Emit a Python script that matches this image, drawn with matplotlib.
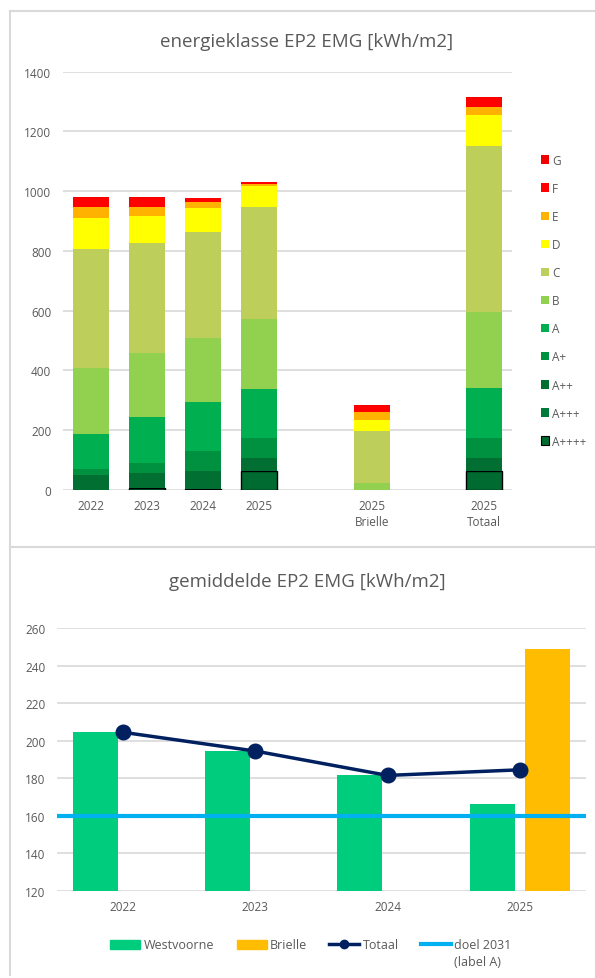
import numpy as np
import matplotlib
matplotlib.use("Agg")
import matplotlib.pyplot as plt
from matplotlib.lines import Line2D
from matplotlib.patches import Patch

plt.rcParams["font.family"] = ["Open Sans", "DejaVu Sans"]

# ---- top chart: energy label distribution ----
categories = ["2022", "2023", "2024", "2025", "", "2025\nBrielle", "", "2025\nTotaal"]
classes = ["A++++", "A+++", "A++", "A+", "A", "B", "C", "D", "E", "F", "G"]
a4plus = [0, 5, 3, 62, 0, 0, 0, 63]
a3plus = [0, 0, 0, 0, 0, 0, 0, 0]
a2plus = [49, 50, 61, 43, 0, 0, 0, 42]
a1plus = [20, 34, 65, 68, 0, 0, 0, 67]
label_a = [117, 153, 166, 164, 0, 0, 0, 168]
label_b = [220, 216, 212, 235, 0, 21, 0, 256]
label_c = [400, 368, 355, 374, 0, 177, 0, 556]
label_d = [104, 90, 80, 72, 0, 36, 0, 104]
label_e = [36, 30, 22, 6, 0, 27, 0, 27]
label_f = [30, 30, 12, 5, 0, 20, 0, 28]
label_g = [4, 4, 2, 2, 0, 4, 0, 5]
class_colors = ["#006B30", "#007A3A", "#006F31", "#009140", "#00B050", "#92D050",
                "#BDCF5A", "#FFFF00", "#FFB300", "#FF0000", "#F20000"]

# ---- bottom chart: average EP2 ----
years = ["2022", "2023", "2024", "2025"]
westvoorne = [204.5, 194.5, 181.5, 166.5]
brielle = [np.nan, np.nan, np.nan, 249]
totaal = [204.5, 194.5, 181.5, 184.5]
doel_2031 = 160

W, H = 595, 979
GRID = "#D9D9D9"
TXT = "#595959"

fig = plt.figure(figsize=(W / 100, H / 100), dpi=100)


def px_axes(left, top, right, bottom):
    return fig.add_axes([left / W, 1 - bottom / H, (right - left) / W, (bottom - top) / H])


def style(ax):
    for s in ax.spines.values():
        s.set_visible(False)
    ax.tick_params(length=0, colors=TXT, labelsize=8.5)
    ax.tick_params(axis="y", pad=8.5)
    ax.tick_params(axis="x", pad=7)
    ax.grid(axis="y", color=GRID, linewidth=1.2)
    ax.set_axisbelow(True)


# frame lines around the two chart panels
for xs, ys in [((10, 10), (12, 976)), ((10, W), (12, 12)), ((10, W), (548, 548))]:
    fig.add_artist(Line2D([x / W for x in xs], [1 - y / H for y in ys], color=GRID, lw=1.5))

# top chart
ax1 = px_axes(63, 72.7, 512, 490.7)
style(ax1)
x = np.arange(len(categories))
stack = [a4plus, a3plus, a2plus, a1plus, label_a, label_b, label_c, label_d, label_e, label_f, label_g]
bottom = np.zeros(len(categories))
handles = []
for name, vals, col in zip(classes, stack, class_colors):
    edge = "black" if name == "A++++" else "none"
    edges = [edge if v > 0 else "none" for v in vals]
    ax1.bar(x, vals, 0.64, bottom=bottom, color=col, edgecolor=edges, linewidth=1)
    bottom += np.array(vals)
    handles.append(Patch(facecolor=col, edgecolor=edge, linewidth=0.8, label=name))
ax1.set_xlim(-0.5, len(categories) - 0.5)
ax1.set_ylim(0, 1400)
ax1.set_yticks(range(0, 1401, 200))
ax1.set_xticks(x)
ax1.set_xticklabels(categories, linespacing=1.3)
fig.text(307 / W, 1 - 42 / H, "energieklasse EP2 EMG [kWh/m2]", ha="center", va="center",
         fontsize=13.5, color=TXT)
fig.legend(handles=handles[::-1], loc="upper left", bbox_to_anchor=(530 / W, 1 - 144 / H),
           frameon=False, fontsize=8.5, handlelength=0.7, handleheight=0.7, handletextpad=0.25,
           labelspacing=1.28, labelcolor=TXT)

# bottom chart
ax2 = px_axes(57, 629.3, 586, 891.7)
style(ax2)
xb = np.arange(len(years))
ax2.bar(xb - 0.21, westvoorne, 0.34, color="#00CC7E", label="Westvoorne")
ax2.bar(xb + 0.21, brielle, 0.34, color="#FFBC00", label="Brielle")
ax2.plot(xb, totaal, color="#002060", lw=2.5, marker="o", markersize=10.5,
         label="Totaal", zorder=4)
ax2.axhline(doel_2031, color="#00B0F0", lw=3, label="doel 2031", zorder=3)
ax2.set_xlim(-0.5, len(years) - 0.5)
ax2.set_ylim(120, 260)
ax2.set_yticks(range(120, 261, 20))
ax2.set_xticks(xb)
ax2.set_xticklabels(years)
fig.text(307 / W, 1 - 582 / H, "gemiddelde EP2 EMG [kWh/m2]", ha="center", va="center",
         fontsize=13.5, color=TXT)
leg_h = [Patch(color="#00CC7E"), Patch(color="#FFBC00"),
         Line2D([], [], color="#002060", lw=2.5, marker="o", markersize=6),
         Line2D([], [], color="#00B0F0", lw=3)]
leg = fig.legend(leg_h, ["Westvoorne", "Brielle", "Totaal", "doel 2031"], loc="center",
                 ncol=4, bbox_to_anchor=(311 / W, 1 - 946 / H), frameon=False, fontsize=9,
                 handlelength=2.4, handleheight=0.7, handletextpad=0.25, columnspacing=1.8,
                 labelcolor=TXT)
fig.canvas.draw()
bb = leg.get_texts()[-1].get_window_extent()
fig.text(bb.x0 / W, (bb.y0 - 4) / H, "(label A)", ha="left", va="top", fontsize=9, color=TXT)

fig.savefig("out.png", dpi=100, facecolor="white")
